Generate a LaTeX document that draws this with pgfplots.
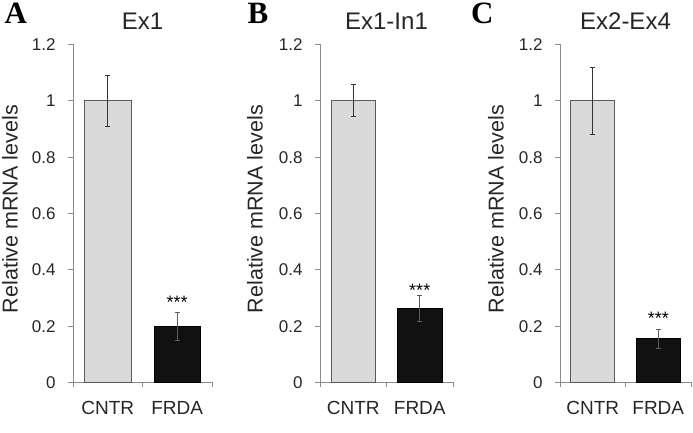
\documentclass[border=0pt]{standalone}
\usepackage{fontspec}
\setmainfont{Liberation Sans}
\newfontfamily\serifbold{Liberation Serif}
\usepackage{pgfplots}
\pgfplotsset{compat=1.18}

\definecolor{ctrl}{HTML}{DADADA}
\definecolor{ctrlline}{HTML}{5A5A5A}
\definecolor{frda}{HTML}{111111}
\definecolor{axgray}{HTML}{8A8A8A}
\definecolor{errc}{HTML}{333333}

\pgfplotsset{
  panel/.style={
    scale only axis, height=338pt,
    xmin=-0.5, xmax=1.5, ymin=0, ymax=1.2,
    axis x line*=bottom, axis y line*=left,
    axis line style={axgray, line width=0.8pt},
    tick align=outside, major tick length=5pt,
    tick style={axgray, line width=0.8pt},
    ytick={0,0.2,0.4,0.6,0.8,1,1.2},
    yticklabels={0,0.2,0.4,0.6,0.8,1,1.2},
    xtick={-0.5,0.5,1.5}, xticklabels={,,},
    extra x ticks={0,1}, extra x tick labels={CNTR,FRDA},
    extra x tick style={tick style={draw=none}},
    yticklabel style={font=\fontsize{17}{20}\selectfont, text=black!85, xshift=-9pt},
    xticklabel style={font=\fontsize{19}{22}\selectfont, text=black!85, yshift=-10pt},
    ylabel={Relative mRNA levels},
    ylabel style={anchor=center,
                  font=\fontsize{21.5}{24}\selectfont, text=black!85},
    title style={at={(0.5,1)}, anchor=base, yshift=9pt,
                 font=\fontsize{24}{28}\selectfont, text=black!85},
    clip=false,
  },
  ctrlbar/.style={ybar, bar width=0.67, fill=ctrl, draw=ctrlline, line width=0.8pt,
    error bars/.cd, y dir=both, y explicit,
    error bar style={errc, line width=0.9pt},
    error mark options={rotate=90, mark size=2.5pt, errc, line width=0.9pt}},
  frdabar/.style={ybar, bar width=0.67, fill=frda, draw=black, line width=0.8pt,
    error bars/.cd, y dir=both, y explicit,
    error bar style={errc!80!white, line width=0.9pt},
    error mark options={rotate=90, mark size=2.5pt, errc!80!white, line width=0.9pt}},
}

\begin{document}
\begin{tikzpicture}
\useasboundingbox (0,0) rectangle (693pt,433pt);

% Panel A
\begin{axis}[panel, at={(73pt,50.5pt)}, anchor=south west, width=139pt,
  title={Ex1}, ylabel style={at={(axis description cs:-0.453,0.513)}}]
\addplot[ctrlbar] coordinates {(0,1.0) +- (0,0.09)};
\addplot[frdabar] coordinates {(1,0.198) +- (0,0.049)};
\node[anchor=base, font=\fontsize{18}{20}\selectfont] at (axis cs:1,0.262) {***};
\end{axis}

% Panel B
\begin{axis}[panel, at={(320pt,50.5pt)}, anchor=south west, width=133pt,
  title={Ex1-In1}, ylabel style={at={(axis description cs:-0.489,0.513)}}]
\addplot[ctrlbar] coordinates {(0,1.0) +- (0,0.057)};
\addplot[frdabar] coordinates {(1,0.263) +- (0,0.045)};
\node[anchor=base, font=\fontsize{18}{20}\selectfont] at (axis cs:1,0.305) {***};
\end{axis}

% Panel C
\begin{axis}[panel, at={(560pt,50.5pt)}, anchor=south west, width=131pt,
  title={Ex2-Ex4}, ylabel style={at={(axis description cs:-0.489,0.513)}}]
\addplot[ctrlbar] coordinates {(0,1.0) +- (0,0.12)};
\addplot[frdabar] coordinates {(1,0.155) +- (0,0.035)};
\node[anchor=base, font=\fontsize{18}{20}\selectfont] at (axis cs:1,0.207) {***};
\end{axis}

\node[anchor=base west, font=\serifbold\bfseries\fontsize{31}{34}\selectfont] at (1.2pt,409pt) {A};
\node[anchor=base west, font=\serifbold\bfseries\fontsize{31}{34}\selectfont] at (244pt,409pt) {B};
\node[anchor=base west, font=\serifbold\bfseries\fontsize{31}{34}\selectfont] at (467.5pt,409pt) {C};
\end{tikzpicture}
\end{document}
